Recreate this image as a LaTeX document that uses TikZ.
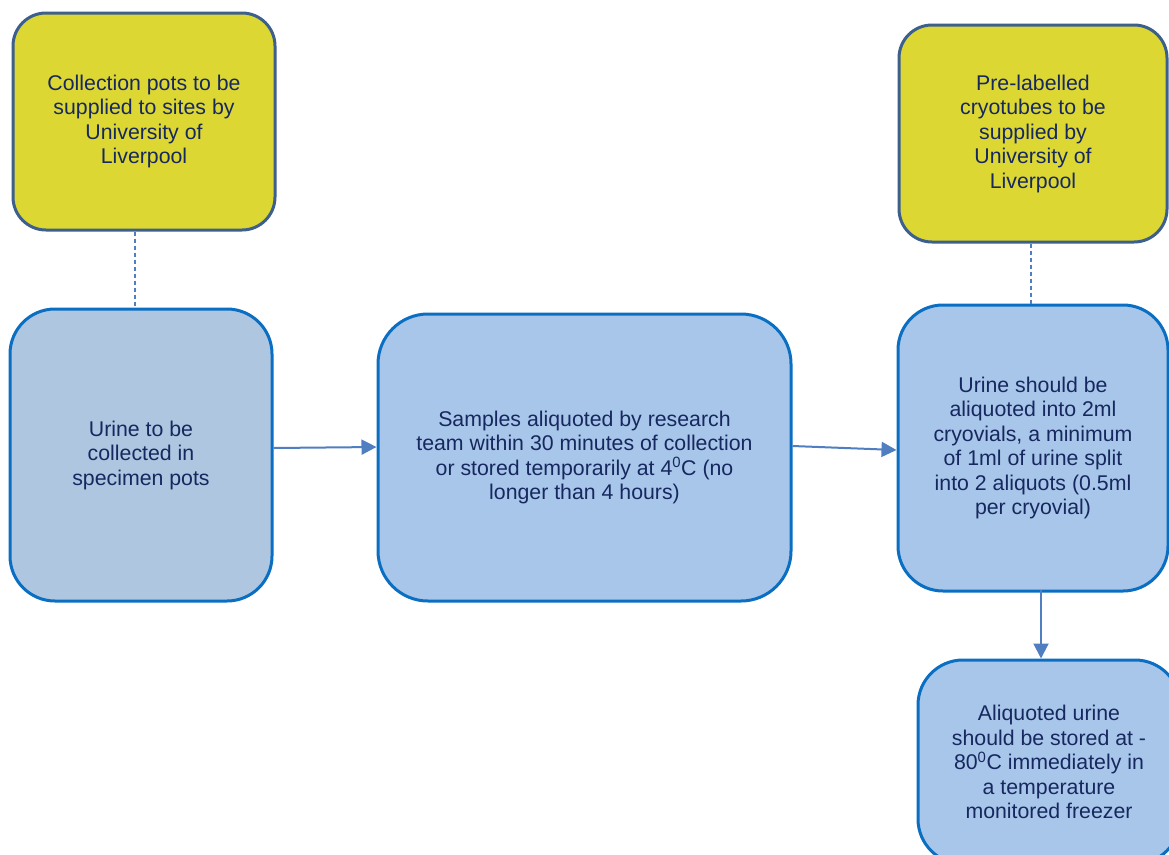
\documentclass[tikz,border=0pt]{standalone}
\usepackage{fontspec}
\setmainfont{Liberation Sans}
\usetikzlibrary{arrows.meta}
\definecolor{ylwfill}{RGB}{221,215,51}
\definecolor{ylwline}{RGB}{60,95,140}
\definecolor{bluefillA}{RGB}{174,198,224}
\definecolor{bluefillB}{RGB}{168,198,233}
\definecolor{blueline}{RGB}{10,111,194}
\definecolor{arrowcol}{RGB}{79,127,192}
\definecolor{txtcol}{RGB}{22,40,95}
\tikzset{
  boxbase/.style={align=center, text=txtcol, inner sep=0pt,
    font=\fontsize{21.3pt}{24.5pt}\selectfont},
  ybox/.style={boxbase, draw=ylwline, fill=ylwfill, line width=3pt, rounded corners=33pt},
  bbox/.style={boxbase, draw=blueline, fill=bluefillB, line width=3pt, rounded corners=45pt},
  flowarrow/.style={draw=arrowcol, line width=2pt, -{Triangle[length=15pt,width=15pt]}},
  dashlink/.style={draw=arrowcol, line width=1.6pt, dash pattern=on 4pt off 3pt}
}
\begin{document}
\begin{tikzpicture}[x=1pt,y=-1pt]
\useasboundingbox (0,0) rectangle (1169,854);
\fill[white] (0,0) rectangle (1169,854);
\clip (0,0) rectangle (1169,854);

\node[ybox, minimum width=262pt, minimum height=217pt] (y1) at (144,121.5)
  {\raisebox{-2pt}{\parbox{250pt}{\centering Collection pots to be\\supplied to sites by\\University of\\Liverpool}}};
\node[ybox, minimum width=268pt, minimum height=217pt] (y2) at (1033,133.5)
  {\raisebox{-2pt}{\parbox{250pt}{\centering Pre-labelled\\cryotubes to be\\supplied by\\University of\\Liverpool}}};

\node[bbox, fill=bluefillA, minimum width=262pt, minimum height=292pt] (b1) at (141,455)
  {\raisebox{-2pt}{\parbox{250pt}{\centering Urine to be\\collected in\\specimen pots}}};
\node[bbox, minimum width=413pt, minimum height=287pt, rounded corners=50pt] (b2) at (584.5,457.5)
  {\raisebox{-2pt}{\parbox{400pt}{\centering Samples aliquoted by research\\team within 30 minutes of collection\\or stored temporarily at 4\textsuperscript{0}C (no\\longer than 4 hours)}}};
\node[bbox, minimum width=270pt, minimum height=286pt] (b3) at (1033,448)
  {\raisebox{-2pt}{\parbox{260pt}{\centering Urine should be\\aliquoted into 2ml\\cryovials, a minimum\\of 1ml of urine split\\into 2 aliquots (0.5ml\\per cryovial)}}};
\node[bbox, minimum width=262pt, minimum height=204pt] (b4) at (1049,762)
  {\raisebox{-2pt}{\parbox{250pt}{\centering Aliquoted urine\\should be stored at -\\80\textsuperscript{0}C immediately in\\a temperature\\monitored freezer}}};

\draw[dashlink] ([xshift=-9pt]y1.south) -- ([xshift=-9pt]y1.south |- b1.north);
\draw[dashlink] ([xshift=-2pt]y2.south) -- ([xshift=-2pt]y2.south |- b3.north);

\draw[flowarrow] ([yshift=7pt]b1.east) -- ([yshift=10.5pt]b2.west);
\draw[flowarrow] ([yshift=11.5pt]b2.east) -- ([yshift=-2pt]b3.west);
\draw[flowarrow] ([xshift=8pt,yshift=3pt]b3.south) -- ([xshift=8pt]b3.south |- b4.north);
\end{tikzpicture}
\end{document}
